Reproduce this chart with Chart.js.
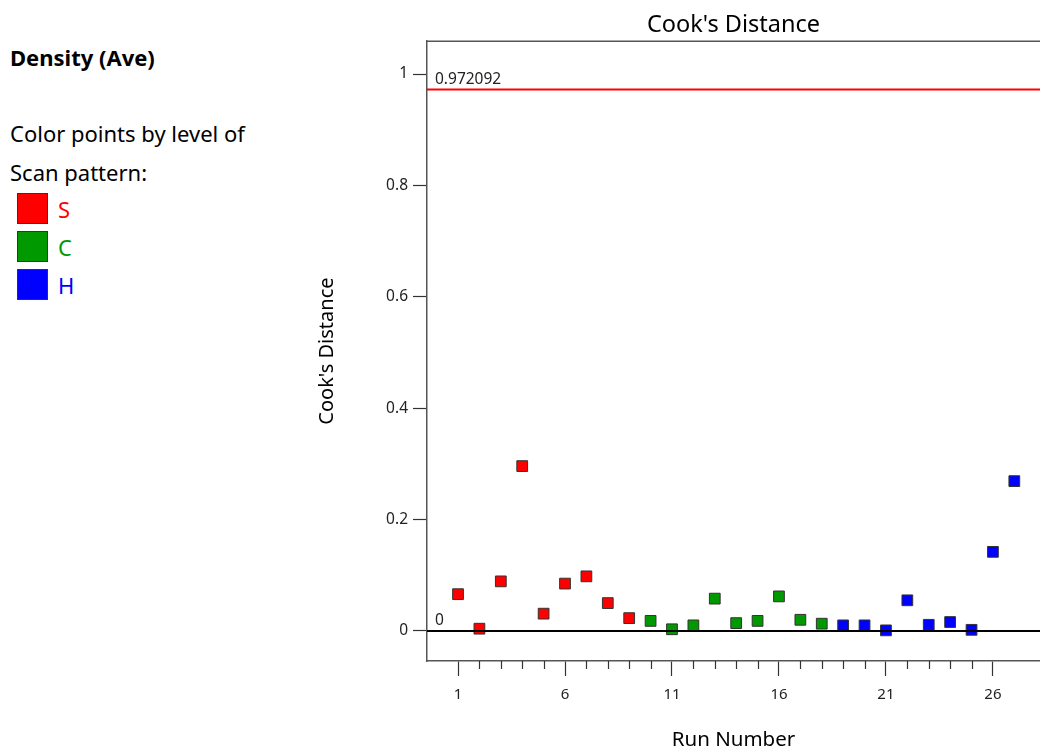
<!DOCTYPE html>
<html>
<head>
<meta charset="utf-8">
<script src="https://cdn.jsdelivr.net/npm/chart.js@4.4.0/dist/chart.umd.min.js"></script>
<style>
  body { margin: 0; overflow: hidden; background: #fff; font-family: "Noto Sans", sans-serif; }
  #c { position: absolute; left: 0; top: 0; }
  #side { position: absolute; left: 10px; top: 0; color: #000; }
  .hdr { position: absolute; left: 0; top: 43px; font-weight: bold; font-size: 22px; line-height: 28px; white-space: nowrap; }
  .txt { position: absolute; left: 0; font-size: 22px; line-height: 30px; white-space: nowrap; }
  .item { position: absolute; left: 7px; height: 31px; display: flex; align-items: center; }
  .sw { width: 31px; height: 31px; border: 1px solid #333; box-sizing: border-box; }
  .lab { margin-left: 10px; font-size: 22px; line-height: 30px; }
</style>
</head>
<body>
<div id="side">
  <div class="hdr">Density (Ave)</div>
  <div class="txt" style="top:118px">Color points by level of</div>
  <div class="txt" style="top:157px">Scan pattern:</div>
</div>
<canvas id="c" width="1040" height="754"></canvas>
<script>
const runs = [1, 2, 3, 4, 5, 6, 7, 8, 9, 10, 11, 12, 13, 14, 15, 16, 17, 18, 19, 20, 21, 22, 23, 24, 25, 26, 27]
const cookD = [0.066, 0.004, 0.089, 0.296, 0.031, 0.085, 0.098, 0.050, 0.023,
               0.018, 0.003, 0.010, 0.058, 0.014, 0.018, 0.062, 0.020, 0.013,
               0.010, 0.010, 0.001, 0.055, 0.011, 0.016, 0.002, 0.142, 0.269]
const scanPattern = ['S', 'S', 'S', 'S', 'S', 'S', 'S', 'S', 'S',
                     'C', 'C', 'C', 'C', 'C', 'C', 'C', 'C', 'C',
                     'H', 'H', 'H', 'H', 'H', 'H', 'H', 'H', 'H']
const levels = ['S', 'C', 'H']
const levelColors = ['#ff0000', 'rgb(0,153,0)', '#0000ff']
const xTicks = [1, 2, 3, 4, 5, 6, 7, 8, 9, 10, 11, 12, 13, 14, 15, 16, 17, 18, 19, 20, 21, 22, 23, 24, 25, 26]
const yTicks = [0, 0.2, 0.4, 0.6, 0.8, 1]
const refValues = [0.972092, 0]
const refLabels = ['0.972092', '0']
const refColors = ['#ff0000', '#000000']

const FONT = '"Noto Sans", sans-serif'

// side legend
const side = document.getElementById('side')
levels.forEach((lv, i) => {
  const d = document.createElement('div')
  d.className = 'item'
  d.style.top = (193 + i * 38) + 'px'
  d.innerHTML = '<div class="sw" style="background:' + levelColors[i] + '"></div>' +
    '<span class="lab" style="color:' + levelColors[i] + '">' + lv + '</span>'
  side.appendChild(d)
})

const datasets = levels.map((lv, i) => ({
  label: lv,
  data: runs.filter((r, k) => scanPattern[k] === lv).map(r => ({ x: r, y: cookD[r - 1] })),
  backgroundColor: levelColors[i],
  borderColor: '#333',
  borderWidth: 1,
  pointStyle: 'rect',
  pointRadius: 7.6,
  pointHoverRadius: 7.6
}))

const framePlugin = {
  id: 'frame',
  afterDatasetsDraw(chart) {
    const { ctx, chartArea: a, scales: { x, y } } = chart
    ctx.save()
    refValues.forEach((v, i) => {
      const py = y.getPixelForValue(v)
      ctx.strokeStyle = refColors[i]
      ctx.lineWidth = 2
      ctx.beginPath()
      ctx.moveTo(a.left, py)
      ctx.lineTo(a.right, py)
      ctx.stroke()
      ctx.fillStyle = '#222'
      ctx.font = '15.5px ' + FONT
      ctx.textBaseline = 'alphabetic'
      ctx.textAlign = 'left'
      ctx.fillText(refLabels[i], a.left + 8, py - 6)
    })
    // top frame line (right side runs off the page)
    ctx.strokeStyle = '#555'
    ctx.lineWidth = 1.5
    ctx.beginPath()
    ctx.moveTo(a.left, a.top)
    ctx.lineTo(a.right, a.top)
    ctx.stroke()
    // minor x ticks
    ctx.strokeStyle = '#333'
    ctx.lineWidth = 1.2
    xTicks.forEach(v => {
      if ((v - 1) % 5 === 0) return
      const px = Math.round(x.getPixelForValue(v)) + 0.5
      ctx.beginPath()
      ctx.moveTo(px, a.bottom)
      ctx.lineTo(px, a.bottom + 8)
      ctx.stroke()
    })
    ctx.restore()
  }
}

new Chart(document.getElementById('c'), {
  type: 'scatter',
  data: { datasets },
  plugins: [framePlugin],
  options: {
    responsive: false,
    animation: false,
    devicePixelRatio: 1,
    layout: { autoPadding: false, padding: { left: 300, right: 0, top: 0, bottom: 0 } },
    plugins: {
      legend: { display: false },
      tooltip: { enabled: false },
      title: {
        display: true,
        fullSize: false,
        text: "Cook's Distance",
        color: '#000',
        font: { family: FONT, size: 23.5, weight: 'normal' },
        padding: { top: 11, bottom: 2 }
      }
    },
    scales: {
      x: {
        type: 'linear',
        min: -0.45,
        max: 28.2,
        afterFit(scale) { scale.height = 93 },
        afterBuildTicks(scale) { scale.ticks = xTicks.map(v => ({ value: v })) },
        grid: {
          drawOnChartArea: false,
          drawTicks: true,
          tickLength: 15,
          tickWidth: 1.2,
          tickColor: ctx => ((ctx.tick.value - 1) % 5 === 0 ? '#333' : 'rgba(0,0,0,0)')
        },
        border: { display: true, color: '#555', width: 1.5 },
        ticks: {
          autoSkip: false,
          maxRotation: 0,
          padding: 10,
          color: '#222',
          font: { family: FONT, size: 15 },
          callback: v => ((v - 1) % 5 === 0 ? String(v) : '')
        },
        title: {
          display: true,
          text: 'Run Number',
          color: '#000',
          font: { family: FONT, size: 20.5 },
          padding: { top: 0, bottom: 2 }
        }
      },
      y: {
        type: 'linear',
        min: -0.054,
        max: 1.059,
        afterFit(scale) { scale.width = 127 },
        afterBuildTicks(scale) { scale.ticks = yTicks.map(v => ({ value: v })) },
        grid: {
          drawOnChartArea: false,
          drawTicks: true,
          tickLength: 14,
          tickWidth: 1.2,
          tickColor: '#333'
        },
        border: { display: true, color: '#555', width: 1.5 },
        ticks: {
          padding: 5,
          color: '#222',
          font: { family: FONT, size: 15.5 },
          callback: v => String(Math.round(v * 10) / 10)
        },
        title: {
          display: true,
          text: "Cook's Distance",
          color: '#000',
          font: { family: FONT, size: 20 },
          padding: { top: 15, bottom: 0 }
        }
      }
    }
  }
})
</script>
</body>
</html>
